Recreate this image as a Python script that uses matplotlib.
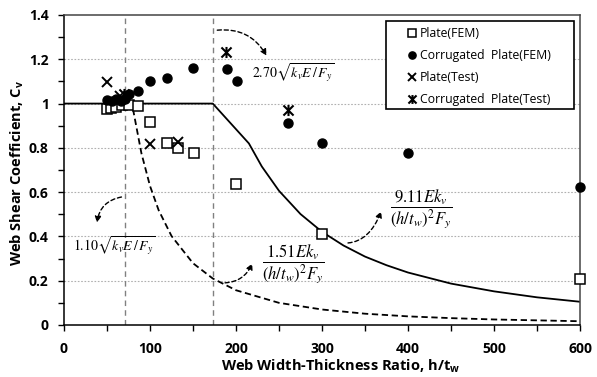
import matplotlib
matplotlib.use("Agg")
import matplotlib.pyplot as plt
from matplotlib.path import Path
from matplotlib.patches import Rectangle
from matplotlib.ticker import MultipleLocator, FuncFormatter

plt.rcParams['font.family'] = ['Open Sans', 'DejaVu Sans']
plt.rcParams['mathtext.fontset'] = 'stix'

# limit lines (h/tw)
lim_inelastic = 71
lim_elastic = 173

# Cv curves
solid_x = [0, 173, 215, 230, 250, 275, 300, 325, 350, 375, 400, 450, 500, 550, 600]
solid_y = [1.0, 1.0, 0.82, 0.716, 0.606, 0.501, 0.421, 0.359, 0.309, 0.27, 0.237,
           0.187, 0.152, 0.125, 0.105]
dash_x = [71, 80, 90, 100, 110, 125, 150, 173, 200, 250, 300, 350, 400, 450, 500, 550, 600]
dash_y = [1.0, 0.98, 0.776, 0.628, 0.519, 0.402, 0.279, 0.21, 0.157, 0.1, 0.07,
          0.051, 0.039, 0.031, 0.025, 0.021, 0.017]

# test / FEM results
plate_fem_x = [50, 55, 61, 67, 75, 86, 100, 120, 133, 151, 200, 300, 600]
plate_fem_y = [0.976, 0.979, 0.986, 0.994, 0.995, 0.991, 0.918, 0.821, 0.801, 0.776,
               0.638, 0.411, 0.208]
corr_fem_x = [50, 56, 61, 66, 71, 76, 86, 100, 120, 150, 189, 201, 261, 300, 400, 600]
corr_fem_y = [1.016, 1.01, 1.02, 1.012, 1.022, 1.043, 1.055, 1.103, 1.114, 1.161,
              1.155, 1.103, 0.911, 0.823, 0.776, 0.625]
plate_test_x = [50, 65, 100, 133]
plate_test_y = [1.099, 1.035, 0.818, 0.828]
corr_test_x = [70, 188, 261]
corr_test_y = [1.045, 1.232, 0.971]

star = Path([(-1, -1), (1, 1), (-1, 1), (1, -1), (0, -1.1), (0, 1.1)],
            [Path.MOVETO, Path.LINETO, Path.MOVETO, Path.LINETO, Path.MOVETO, Path.LINETO])

fig = plt.figure(figsize=(5.97, 3.77), dpi=100)
ax = fig.add_axes([64 / 597, 1 - 325 / 377, 516 / 597, 310 / 377])

ax.set_xlim(0, 600)
ax.set_ylim(0, 1.4)
for yy in [0.2, 0.4, 0.6, 0.8, 1.0, 1.2]:
    ax.axhline(yy, color='#b0b0b0', lw=0.8, ls=(0, (1.5, 1.5)), zorder=0)
ax.axvline(lim_inelastic, color='#808080', lw=1.0, ls=(0, (4, 3)), zorder=1)
ax.axvline(lim_elastic, color='#808080', lw=1.0, ls=(0, (4, 3)), zorder=1)

ax.plot(solid_x, solid_y, color='black', lw=1.3, zorder=2)
ax.plot(dash_x, dash_y, color='black', lw=1.3, ls=(0, (3.5, 2)), zorder=2)

ax.plot(plate_fem_x, plate_fem_y, ls='none', marker='s', ms=6.5, mfc='white', mec='black',
        mew=1.1, label='Plate(FEM)', zorder=3, clip_on=False)
ax.plot(corr_fem_x, corr_fem_y, ls='none', marker='o', ms=6.5, color='black',
        label='Corrugated  Plate(FEM)', zorder=4, clip_on=False)
ax.plot(plate_test_x, plate_test_y, ls='none', marker='x', ms=7.5, mew=1.4, color='black',
        label='Plate(Test)', zorder=5)
ax.plot(corr_test_x, corr_test_y, ls='none', marker=star, ms=8, mew=1.5, color='black',
        label='Corrugated  Plate(Test)', zorder=5)

# formula labels with dashed arrows
arr = dict(arrowstyle='-|>', color='black', lw=1.0, ls=(0, (3, 2)), mutation_scale=9)
ax.annotate('', xy=(237, 1.205), xytext=(175, 1.33),
            arrowprops=dict(arr, connectionstyle='arc3,rad=-0.35'))
ax.text(219, 1.14, r'$2.70\sqrt{k_vE\,/\,F_y}$', fontsize=10, va='center', ha='left')

ax.annotate('', xy=(38, 0.45), xytext=(70, 0.58),
            arrowprops=dict(arr, connectionstyle='arc3,rad=0.4'))
ax.text(10, 0.36, r'$1.10\sqrt{k_vE\,/\,F_y}$', fontsize=10, va='center', ha='left')

ax.annotate('', xy=(220, 0.29), xytext=(184, 0.19),
            arrowprops=dict(arr, connectionstyle='angle3,angleA=0,angleB=70'))
ax.text(266, 0.275, r'$\dfrac{1.51Ek_v}{(h/t_w)^2F_y}$', fontsize=12, va='center', ha='center')

ax.annotate('', xy=(370, 0.525), xytext=(327, 0.37),
            arrowprops=dict(arr, connectionstyle='angle3,angleA=0,angleB=70'))
ax.text(415, 0.52, r'$\dfrac{9.11Ek_v}{(h/t_w)^2F_y}$', fontsize=12, va='center', ha='center')

ax.xaxis.set_major_locator(MultipleLocator(100))
ax.xaxis.set_minor_locator(MultipleLocator(50))
ax.yaxis.set_major_locator(MultipleLocator(0.2))
ax.yaxis.set_minor_locator(MultipleLocator(0.1))
ax.yaxis.set_major_formatter(FuncFormatter(lambda v, p: '{:g}'.format(round(v, 2))))
ax.tick_params(which='both', direction='out', color='black', width=1.0)
ax.tick_params(which='major', length=4, labelsize=10, pad=7)
ax.tick_params(which='minor', length=4)
ax.tick_params(axis='x', pad=8)
for lab in ax.get_xticklabels() + ax.get_yticklabels():
    lab.set_fontweight('bold')
for s in ax.spines.values():
    s.set_color('black')
    s.set_linewidth(1.1)
ax.spines['top'].set_color('#444444')
ax.spines['right'].set_color('#444444')

ax.set_xlabel(r'Web Width-Thickness Ratio, h/t$_\mathregular{w}$', fontsize=10.5,
              fontweight='bold', labelpad=3)
ax.set_ylabel(r'Web Shear Coefficient, C$_\mathregular{v}$', fontsize=10.5,
              fontweight='bold')
ax.xaxis.set_label_coords(0.537, -0.105)
ax.yaxis.set_label_coords(-0.074, 0.49)

# legend frame drawn separately so the markers sit inset like the original
ax.add_patch(Rectangle((0.624, 0.697), 0.364, 0.284, transform=ax.transAxes,
                       facecolor='white', edgecolor='black', lw=1.2, zorder=9))
leg = ax.legend(loc='upper left', bbox_to_anchor=(0.665, 0.962), borderaxespad=0,
                frameon=False, fontsize=8.8, handlelength=0.8, handletextpad=0.25,
                borderpad=0, labelspacing=0.75, numpoints=1, markerscale=0.8)
leg.set_zorder(10)

fig.savefig('out.png', dpi=100)
